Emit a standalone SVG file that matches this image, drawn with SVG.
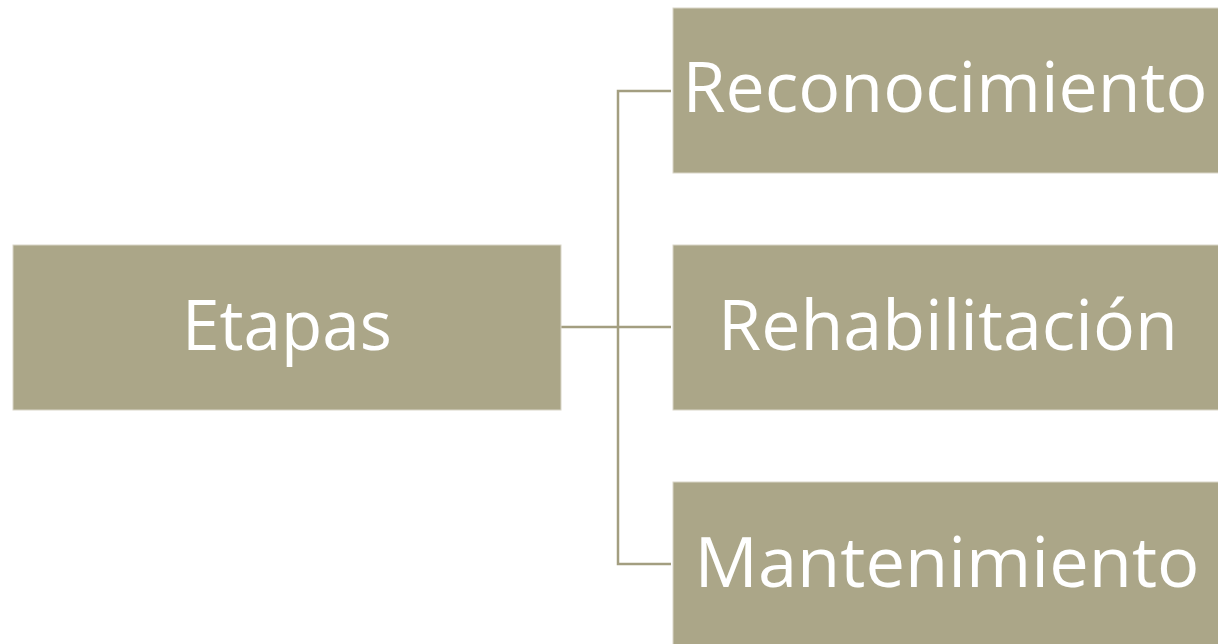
<svg xmlns="http://www.w3.org/2000/svg" width="1218" height="644" viewBox="0 0 1218 644">
<style>
.box{fill:#aba688;stroke:#d9d6c8;stroke-width:1}
.lbl{fill:#ffffff;font-family:"Open Sans","Noto Sans",sans-serif;font-size:70px;text-anchor:middle}
.conn{fill:none;stroke:#a39e80;stroke-width:2.5}
</style>
<rect width="1218" height="644" fill="#ffffff"/>
<g id="connectors">
<path class="conn" d="M561 327 H671"/>
<path class="conn" d="M671 91 H618 V564 H671"/>
</g>
<g id="etapas">
<rect class="box" x="13" y="245" width="548" height="165"/>
<text class="lbl" x="287" y="350" textLength="210" lengthAdjust="spacingAndGlyphs">Etapas</text>
</g>
<g id="reconocimiento">
<rect class="box" x="673" y="8" width="546" height="165"/>
<text class="lbl" x="945" y="112" textLength="525" lengthAdjust="spacingAndGlyphs">Reconocimiento</text>
</g>
<g id="rehabilitacion">
<rect class="box" x="673" y="245" width="546" height="165"/>
<text class="lbl" x="948" y="350" textLength="460" lengthAdjust="spacingAndGlyphs">Rehabilitación</text>
</g>
<g id="mantenimiento">
<rect class="box" x="673" y="482" width="546" height="165"/>
<text class="lbl" x="947" y="587" textLength="505" lengthAdjust="spacingAndGlyphs">Mantenimiento</text>
</g>
</svg>
